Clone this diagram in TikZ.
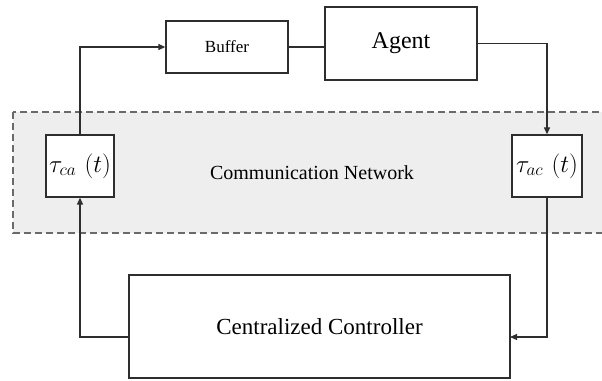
\documentclass[tikz,border=0pt]{standalone}
\usepackage{fontspec}
\setmainfont{Liberation Serif}
\usetikzlibrary{arrows.meta}
\definecolor{netfill}{HTML}{EEEEEE}
\definecolor{netdash}{HTML}{6A6A6A}
\definecolor{linec}{HTML}{2E2E2E}
\tikzset{
  blk/.style={draw=linec, line width=1.3pt, fill=white, rectangle, inner sep=0pt, align=center},
  conn/.style={draw=linec, line width=1.2pt},
  arr/.style={conn, -{Triangle[length=7pt,width=6pt]}},
  netbox/.style={draw=netdash, fill=netfill, line width=1.6pt, dash pattern=on 7pt off 4pt}
}
\begin{document}
\begin{tikzpicture}[x=1pt,y=-1pt]
\useasboundingbox (0,0) rectangle (602,380);
% communication network area
\path[netbox] (13,112) rectangle (603,233);
\node[inner sep=0pt, font=\fontsize{20}{24}\selectfont] (net) at (312,173) {Communication Network};
% blocks
\node[blk, minimum width=122pt, minimum height=52pt, font=\fontsize{17}{20}\selectfont] (buffer) at (227,47) {Buffer};
\node[blk, minimum width=152pt, minimum height=73pt, font=\fontsize{24}{28}\selectfont] (agent) at (401,43.5) {Agent};
\node[blk, minimum width=68pt, minimum height=62pt, font=\fontsize{26}{30}\selectfont] (tca) at (80,166) {$\tau_{ca}\,\left(t\right)$};
\node[blk, minimum width=70pt, minimum height=62pt, font=\fontsize{26}{30}\selectfont] (tac) at (547,166) {$\tau_{ac}\,\left(t\right)$};
\node[blk, minimum width=381pt, minimum height=103pt, font=\fontsize{23}{27}\selectfont] (ctrl) at (319.5,326.5) {Centralized Controller};
% connection points on controller
\coordinate (cl) at (129,337);
\coordinate (cr) at (510,337);
% connectors
\draw[arr] (tca.north) |- (buffer.west);
\draw[conn] (buffer.east) -- (buffer.east -| agent.west);
\draw[arr] (agent.east) -| (tac.north);
\draw[arr] (cl) -| (tca.south);
\draw[arr] (tac.south) |- (cr);
\end{tikzpicture}
\end{document}
